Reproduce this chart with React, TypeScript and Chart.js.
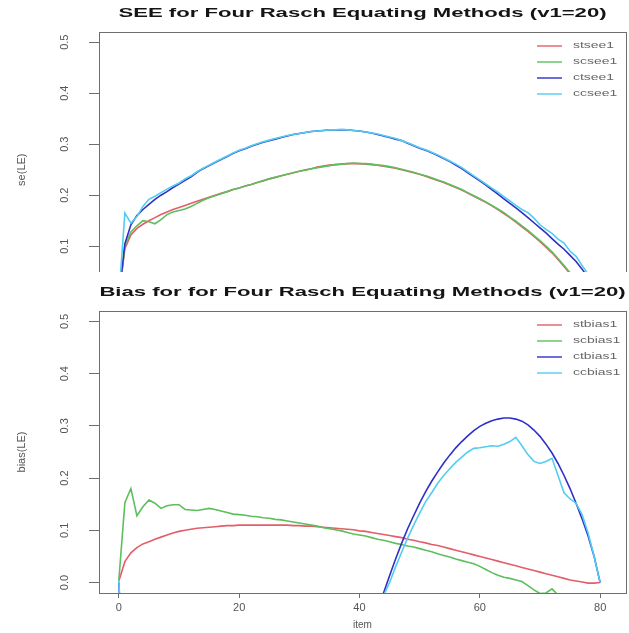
import React, { useEffect, useRef } from "react";
import { Chart, registerables } from "chart.js";

Chart.register(...registerables);

// ---------- data ----------
const items = [
  0, 1, 2, 3, 4, 5, 6, 7, 8, 9,
  10, 11, 12, 13, 14, 15, 16, 17, 18, 19,
  20, 21, 22, 23, 24, 25, 26, 27, 28, 29,
  30, 31, 32, 33, 34, 35, 36, 37, 38, 39,
  40, 41, 42, 43, 44, 45, 46, 47, 48, 49,
  50, 51, 52, 53, 54, 55, 56, 57, 58, 59,
  60, 61, 62, 63, 64, 65, 66, 67, 68, 69,
  70, 71, 72, 73, 74, 75, 76, 77, 78, 79,
  80,
];

const seeSt = [
  0.000, 0.095, 0.122, 0.135, 0.143, 0.150, 0.156, 0.162, 0.167, 0.172,
  0.176, 0.180, 0.184, 0.188, 0.192, 0.196, 0.200, 0.204, 0.207, 0.211,
  0.214, 0.218, 0.221, 0.225, 0.228, 0.232, 0.235, 0.238, 0.241, 0.244,
  0.247, 0.250, 0.252, 0.255, 0.257, 0.259, 0.260, 0.261, 0.262, 0.262,
  0.262, 0.261, 0.260, 0.259, 0.257, 0.255, 0.253, 0.250, 0.247, 0.244,
  0.241, 0.237, 0.233, 0.229, 0.225, 0.220, 0.215, 0.210, 0.204, 0.198,
  0.192, 0.186, 0.179, 0.172, 0.164, 0.156, 0.147, 0.138, 0.129, 0.119,
  0.109, 0.098, 0.087, 0.074, 0.060, 0.046, 0.034, 0.022, 0.012, 0.005,
  0.000,
];

const seeSc = [
  0.000, 0.100, 0.128, 0.140, 0.150, 0.148, 0.144, 0.152, 0.162, 0.167,
  0.170, 0.173, 0.178, 0.184, 0.190, 0.195, 0.199, 0.203, 0.207, 0.211,
  0.214, 0.218, 0.221, 0.225, 0.229, 0.232, 0.235, 0.238, 0.241, 0.244,
  0.247, 0.249, 0.252, 0.254, 0.256, 0.258, 0.260, 0.261, 0.262, 0.263,
  0.262, 0.262, 0.261, 0.259, 0.258, 0.256, 0.254, 0.251, 0.248, 0.245,
  0.241, 0.238, 0.234, 0.230, 0.226, 0.221, 0.216, 0.211, 0.205, 0.199,
  0.193, 0.187, 0.180, 0.173, 0.166, 0.157, 0.149, 0.140, 0.131, 0.121,
  0.111, 0.100, 0.089, 0.076, 0.062, 0.048, 0.036, 0.024, 0.013, 0.006,
  0.000,
];

const seeCt = [
  0.000, 0.105, 0.142, 0.160, 0.172, 0.182, 0.192, 0.200, 0.207, 0.215,
  0.222, 0.229, 0.236, 0.245, 0.252, 0.258, 0.264, 0.270, 0.276, 0.282,
  0.287, 0.291, 0.296, 0.300, 0.304, 0.307, 0.310, 0.313, 0.316, 0.319,
  0.321, 0.323, 0.325, 0.326, 0.327, 0.328, 0.328, 0.328, 0.328, 0.327,
  0.326, 0.324, 0.322, 0.319, 0.316, 0.313, 0.310, 0.307, 0.302, 0.297,
  0.292, 0.288, 0.283, 0.278, 0.272, 0.266, 0.259, 0.252, 0.244, 0.236,
  0.228, 0.220, 0.211, 0.202, 0.193, 0.184, 0.175, 0.166, 0.156, 0.146,
  0.136, 0.126, 0.115, 0.104, 0.094, 0.082, 0.070, 0.055, 0.038, 0.020,
  0.000,
];

const seeCc = [
  0.000, 0.165, 0.145, 0.158, 0.178, 0.192, 0.198, 0.205, 0.212, 0.218,
  0.224, 0.232, 0.238, 0.246, 0.253, 0.259, 0.265, 0.271, 0.277, 0.283,
  0.288, 0.292, 0.297, 0.301, 0.305, 0.308, 0.311, 0.314, 0.317, 0.319,
  0.321, 0.323, 0.325, 0.326, 0.327, 0.328, 0.328, 0.329, 0.328, 0.327,
  0.326, 0.324, 0.322, 0.320, 0.317, 0.314, 0.311, 0.307, 0.303, 0.298,
  0.293, 0.289, 0.284, 0.279, 0.273, 0.267, 0.261, 0.254, 0.246, 0.238,
  0.230, 0.222, 0.214, 0.206, 0.197, 0.189, 0.180, 0.172, 0.166, 0.155,
  0.142, 0.133, 0.125, 0.114, 0.106, 0.090, 0.080, 0.062, 0.045, 0.024,
  0.000,
];

const biasSt = [
  0.003, 0.040, 0.057, 0.067, 0.074, 0.078, 0.083, 0.087, 0.091, 0.095,
  0.098, 0.100, 0.102, 0.104, 0.105, 0.106, 0.107, 0.108, 0.109, 0.109,
  0.110, 0.110, 0.110, 0.110, 0.110, 0.110, 0.110, 0.110, 0.110, 0.109,
  0.109, 0.108, 0.108, 0.107, 0.106, 0.105, 0.104, 0.103, 0.102, 0.101,
  0.099, 0.098, 0.096, 0.094, 0.092, 0.090, 0.088, 0.086, 0.083, 0.081,
  0.078, 0.076, 0.073, 0.071, 0.068, 0.065, 0.062, 0.059, 0.056, 0.053,
  0.050, 0.047, 0.044, 0.041, 0.038, 0.035, 0.032, 0.029, 0.026, 0.023,
  0.020, 0.017, 0.014, 0.011, 0.008, 0.005, 0.003, 0.001, -0.001, -0.001,
  0.000,
];

const biasSc = [
  0.005, 0.153, 0.180, 0.128, 0.145, 0.158, 0.152, 0.142, 0.147, 0.149,
  0.149, 0.140, 0.139, 0.138, 0.140, 0.142, 0.140, 0.137, 0.134, 0.131,
  0.130, 0.129, 0.127, 0.126, 0.124, 0.123, 0.121, 0.120, 0.118, 0.116,
  0.114, 0.112, 0.110, 0.108, 0.105, 0.103, 0.101, 0.099, 0.096, 0.093,
  0.091, 0.089, 0.086, 0.083, 0.081, 0.078, 0.075, 0.073, 0.070, 0.068,
  0.065, 0.062, 0.059, 0.055, 0.052, 0.049, 0.045, 0.042, 0.039, 0.036,
  0.031, 0.025, 0.019, 0.014, 0.010, 0.008, 0.005, 0.002, -0.006, -0.014,
  -0.021, -0.020, -0.012, -0.024, -0.030, -0.034, -0.038, -0.042, -0.046, -0.050,
  -0.055,
];

const biasCt = [
  0.000, -0.250, null, null, null, null, null, null, null, null,
  null, null, null, null, null, null, null, null, null, null,
  null, null, null, null, null, null, null, null, null, null,
  null, null, null, null, null, null, null, null, null, null,
  null, null, -0.090, -0.055, -0.020, 0.013, 0.045, 0.075, 0.103, 0.128,
  0.152, 0.174, 0.194, 0.212, 0.229, 0.244, 0.258, 0.270, 0.281, 0.291,
  0.299, 0.305, 0.310, 0.313, 0.315, 0.315, 0.313, 0.309, 0.302, 0.292,
  0.280, 0.265, 0.248, 0.228, 0.205, 0.180, 0.152, 0.122, 0.089, 0.050,
  0.000,
];

const biasCc = [
  0.005, -0.250, null, null, null, null, null, null, null, null,
  null, null, null, null, null, null, null, null, null, null,
  null, null, null, null, null, null, null, null, null, null,
  null, null, null, null, null, null, null, null, null, null,
  null, null, -0.100, -0.060, -0.025, 0.000, 0.030, 0.058, 0.085, 0.110,
  0.133, 0.155, 0.172, 0.190, 0.205, 0.218, 0.230, 0.240, 0.250, 0.257,
  0.258, 0.260, 0.262, 0.261, 0.265, 0.270, 0.278, 0.262, 0.245, 0.232,
  0.228, 0.232, 0.238, 0.205, 0.172, 0.160, 0.152, 0.130, 0.095, 0.050,
  0.000,
];

const seeLabels = ["stsee1", "scsee1", "ctsee1", "ccsee1"];
const biasLabels = ["stbias1", "scbias1", "ctbias1", "ccbias1"];
const xTicks = [0, 20, 40, 60, 80];
const yTicks = [0, 0.1, 0.2, 0.3, 0.4, 0.5];
const seeTitle = "SEE for Four Rasch Equating Methods (v1=20)";
const biasTitle = "Bias for for Four Rasch Equating Methods (v1=20)";
const seeYTitle = "se(LE)";
const biasYTitle = "bias(LE)";
const xTitle = "item";

// ---------- styles ----------
const lineColors = ["#e35d6a", "#5cbf5c", "#2f2fc8", "#52cdf0"];
const FONT = '"Liberation Sans", Arial, Helvetica, sans-serif';
const AXIS_GRAY = "#6e6e6e";
const TEXT_GRAY = "#555555";

const rFrame = {
  id: "rFrame",
  afterDraw(chart: any) {
    const { ctx, chartArea: a } = chart;
    ctx.save();
    ctx.strokeStyle = AXIS_GRAY;
    ctx.lineWidth = 1;
    ctx.strokeRect(Math.round(a.left) + 0.5, Math.round(a.top) + 0.5, Math.round(a.right - a.left), Math.round(a.bottom - a.top));
    ctx.restore();
  },
};

const rTitle = {
  id: "rTitle",
  afterDraw(chart: any, _args: any, opts: any) {
    const { ctx, chartArea: a } = chart;
    ctx.save();
    ctx.font = `bold 13px ${FONT}`;
    ctx.fillStyle = "#141414";
    ctx.textAlign = "center";
    ctx.textBaseline = "middle";
    ctx.translate((a.left + a.right) / 2, a.top - 19);
    ctx.scale(1.7, 1);
    ctx.fillText(opts.text, 0, 0);
    ctx.restore();
  },
};

const rLegend = {
  id: "rLegend",
  afterDraw(chart: any) {
    const { ctx, chartArea: a } = chart;
    chart.data.datasets.forEach((ds: any, i: number) => {
      const y = a.top + 14 + i * 16;
      ctx.save();
      ctx.strokeStyle = ds.borderColor;
      ctx.lineWidth = 1.4;
      ctx.beginPath();
      ctx.moveTo(a.right - 89, y);
      ctx.lineTo(a.right - 64, y);
      ctx.stroke();
      ctx.font = `9px ${FONT}`;
      ctx.fillStyle = "#666666";
      ctx.textAlign = "left";
      ctx.textBaseline = "middle";
      ctx.translate(a.right - 53, y);
      ctx.scale(1.55, 1);
      ctx.fillText(ds.label, 0, 0);
      ctx.restore();
    });
  },
};

function makeConfig(
  series: (number | null)[][],
  labels: string[],
  title: string,
  yTitle: string,
  withX: boolean
): any {
  return {
    type: "line",
    data: {
      datasets: series.map((vals, i) => ({
        label: labels[i],
        data: items.map((x, j) => ({ x, y: vals[j] })),
        borderColor: lineColors[i],
        backgroundColor: lineColors[i],
        borderWidth: 1.6,
        pointRadius: 0,
        tension: 0,
        spanGaps: false,
        order: series.length - i,
      })),
    },
    options: {
      animation: false,
      responsive: false,
      events: [],
      layout: { padding: { top: withX ? 39 : 32, right: 3, left: 0, bottom: withX ? 0 : 15 } },
      plugins: {
        legend: { display: false },
        tooltip: { enabled: false },
        title: { display: false },
        rTitle: { text: title },
      },
      scales: {
        x: {
          type: "linear",
          display: withX,
          min: -3.3,
          max: 84.3,
          afterBuildTicks: (s: any) => {
            s.ticks = xTicks.map((v) => ({ value: v }));
          },
          afterFit: (s: any) => {
            s.height = withX ? 40 : 0;
          },
          ticks: {
            autoSkip: false,
            maxRotation: 0,
            padding: 3,
            color: TEXT_GRAY,
            font: { family: FONT, size: 11 },
            callback: (v: any) => String(v),
          },
          grid: { drawOnChartArea: false, drawTicks: true, tickLength: 5, color: AXIS_GRAY },
          border: { display: false },
          title: {
            display: true,
            text: xTitle,
            color: TEXT_GRAY,
            font: { family: FONT, size: 10 },
            padding: { top: 0, bottom: 2 },
          },
        },
        y: {
          type: "linear",
          min: -0.02,
          max: 0.52,
          afterBuildTicks: (s: any) => {
            s.ticks = yTicks.map((v) => ({ value: v }));
          },
          afterFit: (s: any) => {
            s.width = 99;
          },
          ticks: {
            minRotation: 90,
            maxRotation: 90,
            crossAlign: "center",
            padding: 16,
            color: TEXT_GRAY,
            font: { family: FONT, size: 11 },
            callback: (v: any) => Number(v).toFixed(1),
          },
          grid: { drawOnChartArea: false, drawTicks: true, tickLength: 10, color: AXIS_GRAY },
          border: { display: false },
          title: {
            display: true,
            text: yTitle,
            color: TEXT_GRAY,
            font: { family: FONT, size: 11 },
            padding: { top: 15, bottom: 15 },
          },
        },
      },
    },
    plugins: [rFrame, rTitle, rLegend],
  };
}

export default function App() {
  const topRef = useRef<HTMLCanvasElement>(null);
  const botRef = useRef<HTMLCanvasElement>(null);

  useEffect(() => {
    const c1 = new Chart(
      topRef.current as HTMLCanvasElement,
      makeConfig([seeSt, seeSc, seeCt, seeCc], seeLabels, seeTitle, seeYTitle, false)
    );
    const c2 = new Chart(
      botRef.current as HTMLCanvasElement,
      makeConfig([biasSt, biasSc, biasCt, biasCc], biasLabels, biasTitle, biasYTitle, true)
    );
    return () => {
      c1.destroy();
      c2.destroy();
    };
  }, []);

  return (
    <div
      style={{
        position: "absolute",
        left: 0,
        top: 0,
        width: 629,
        height: 633,
        background: "#ffffff",
        overflow: "hidden",
      }}
    >
      <div style={{ position: "absolute", left: 0, top: 0, width: 629, height: 272, overflow: "hidden" }}>
        <canvas ref={topRef} width={629} height={330} style={{ display: "block" }} />
      </div>
      <div style={{ position: "absolute", left: 0, top: 272, width: 629, height: 361 }}>
        <canvas ref={botRef} width={629} height={361} style={{ display: "block" }} />
      </div>
    </div>
  );
}
